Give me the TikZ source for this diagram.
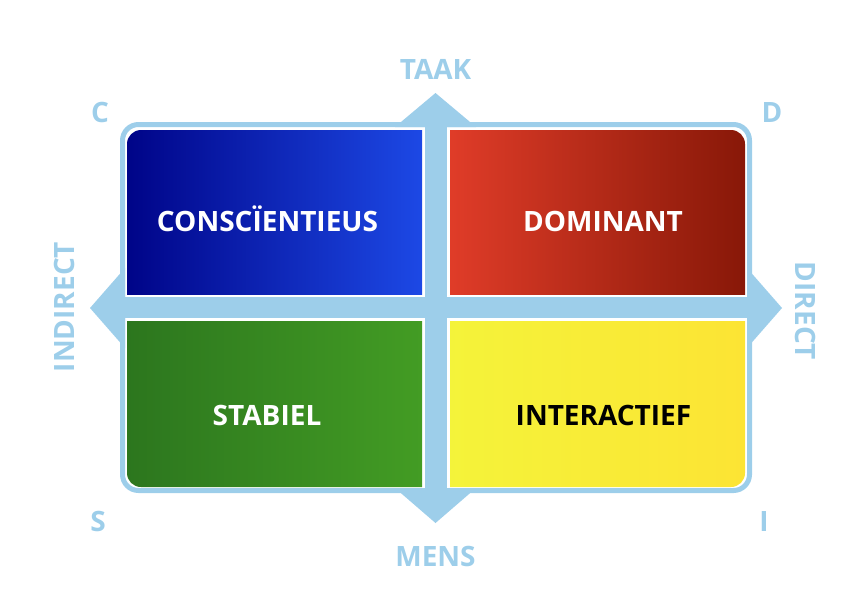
\documentclass[tikz,border=0pt]{standalone}
\usepackage{fontspec}
\setmainfont{Open Sans}
\usepackage{tikz}
\usetikzlibrary{positioning}
\definecolor{axisblue}{RGB}{157,206,234}
\definecolor{bluel}{RGB}{0,4,136}
\definecolor{bluem}{RGB}{0,6,170}
\definecolor{bluer}{RGB}{30,76,234}
\definecolor{redl}{RGB}{228,62,42}
\definecolor{redm}{RGB}{192,46,28}
\definecolor{redr}{RGB}{136,24,8}
\definecolor{greenl}{RGB}{44,118,30}
\definecolor{greenr}{RGB}{68,158,36}
\definecolor{yellowl}{RGB}{244,244,58}
\definecolor{yellowr}{RGB}{252,228,52}
\tikzstyle{outerframe} = [draw=axisblue, line width=5pt, rounded corners=16pt]
\tikzstyle{axisbar} = [fill=axisblue]
\tikzstyle{quad} = [rounded corners=14pt]
\tikzstyle{quadtext} = [font=\fontsize{28}{32}\selectfont\bfseries,
    text=white, anchor=base, inner sep=0pt]
\tikzstyle{axistext} = [font=\fontsize{28}{32}\selectfont\bfseries,
    text=axisblue, inner sep=0pt]

\begin{document}
\begin{tikzpicture}[x=1pt, y=-1pt]
  \useasboundingbox (0,0) rectangle (864,606);

  % frame and the two axes
  \draw [outerframe] (122.5,124.5) rectangle (749.5,490.5);
  \fill [axisbar] (424.5,124.5) rectangle (446.5,490.5);
  \fill [axisbar] (122.5,297) rectangle (749.5,318);

  \coordinate (top) at (435.5,93);
  \coordinate (bottom) at (435.5,523);
  \coordinate (left) at (90,308);
  \coordinate (right) at (782,308);
  \fill [axisbar] (395,127) -- (top) -- (476,127) -- cycle;
  \fill [axisbar] (395,488) -- (bottom) -- (476,488) -- cycle;
  \fill [axisbar] (125,268) -- (left) -- (125,348) -- cycle;
  \fill [axisbar] (747,268) -- (right) -- (747,348) -- cycle;

  % quadrants
  \begin{scope}
    \clip (127,130) rectangle (422,294);
    \shade [quad, left color=bluel, middle color=bluem, right color=bluer]
      (127,130) rectangle (437,309);
  \end{scope}
  \begin{scope}
    \clip (450,130) rectangle (745,294);
    \shade [quad, left color=redl, middle color=redm, right color=redr]
      (435,130) rectangle (745,309);
  \end{scope}
  \begin{scope}
    \clip (127,321) rectangle (422,487);
    \shade [quad, left color=greenl, right color=greenr]
      (127,306) rectangle (437,487);
  \end{scope}
  \begin{scope}
    \clip (450,321) rectangle (745,487);
    \shade [quad, left color=yellowl, right color=yellowr]
      (435,306) rectangle (745,487);
  \end{scope}

  \node [quadtext] (consc) at (267.5,231) {CONSCÏENTIEUS};
  \node [quadtext] (dom) at (603,231) {DOMINANT};
  \node [quadtext] (stab) at (267,425) {STABIEL};
  \node [quadtext, text=black] (inter) at (603.5,425) {INTERACTIEF};

  % axis labels
  \node [axistext, above=13pt of top] (taak) {TAAK};
  \node [axistext, below=23pt of bottom] (mens) {MENS};
  \node [axistext, rotate=90, anchor=south] (indirect) at (75,307) {INDIRECT};
  \node [axistext, rotate=-90, anchor=south] (direct) at (795,311) {DIRECT};

  \node [axistext] (c) at (100,112) {C};
  \node [axistext] (d) at (772,112) {D};
  \node [axistext] (s) at (98,521) {S};
  \node [axistext] (i) at (764,521) {I};
\end{tikzpicture}
\end{document}
